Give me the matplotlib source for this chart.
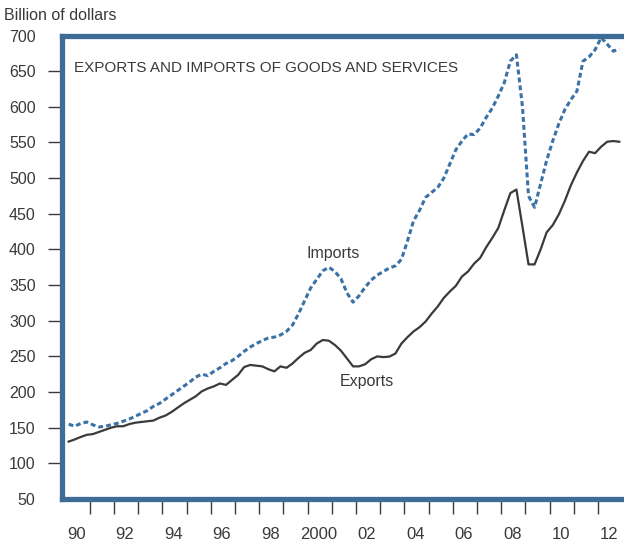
import numpy as np
import matplotlib
matplotlib.use("Agg")
import matplotlib.pyplot as plt

# Quarterly values, 1990Q1 .. 2012Q4, billion of dollars
exports = [
    130.5, 133.5, 137, 140,   # 1990
    141, 144, 147, 150,       # 1991
    152, 152, 155, 157,       # 1992
    158, 159, 160, 164,       # 1993
    167, 172, 178, 184,       # 1994
    189, 194, 201, 205,       # 1995
    208, 212, 210, 217,       # 1996
    224, 235, 238, 237,       # 1997
    236, 232, 229, 236,       # 1998
    234, 240, 248, 255,       # 1999
    259, 268, 273, 272,       # 2000
    266, 258, 247, 236,       # 2001
    236, 239, 246, 250,       # 2002
    249, 249.7, 254, 268,     # 2003
    277, 285, 291, 299,       # 2004
    310, 320, 332, 341,       # 2005
    349, 362, 369, 380,       # 2006
    388, 403, 416, 430,       # 2007
    455, 479, 484, 432,       # 2008
    379, 379, 400, 424,       # 2009
    434, 449, 468, 490,       # 2010
    508, 524, 537, 535,       # 2011
    544, 551, 552, 551,       # 2012
]
imports = [
    155, 152, 156, 158,       # 1990
    154, 151, 152, 154,       # 1991
    156, 159, 162, 166,       # 1992
    170, 174, 180, 184,       # 1993
    190, 196, 202, 208,       # 1994
    214, 221, 225, 223,       # 1995
    229, 234, 240, 244,       # 1996
    250, 257, 263, 268,       # 1997
    272, 276, 277, 280,       # 1998
    285, 294, 310, 328,       # 1999
    346, 358, 370, 375,       # 2000
    369, 359, 339, 326,       # 2001
    335, 347, 357, 364,       # 2002
    369, 374, 377, 386,       # 2003
    412, 440, 455, 473,       # 2004
    480, 487, 500, 520,       # 2005
    540, 552, 562, 561,       # 2006
    570, 585, 598, 615,       # 2007
    634, 664, 673, 600,       # 2008
    475, 459, 492, 525,       # 2009
    552, 576, 596, 610,       # 2010
    622, 664, 670, 680,       # 2011
    697, 688, 678, 681,       # 2012
]
quarters = 1990.125 + 0.25 * np.arange(len(exports))

year_ticks = list(range(1991, 2013))
label_years = list(range(1990, 2013, 2))
year_labels = ["90", "92", "94", "96", "98", "2000", "02", "04", "06", "08", "10", "12"]
y_ticks = list(range(50, 701, 50))

plt.rcParams["font.family"] = ["Liberation Sans", "DejaVu Sans"]
plt.rcParams["font.size"] = 11

frame = "#3d6c97"
dark = "#3a3a3a"

fig = plt.figure(figsize=(6.24, 5.41), dpi=100)
ax = fig.add_axes([62 / 624, 42 / 541, 1 - 62 / 624, (499 - 35.5) / 541])

ax.plot(quarters, imports, color="#3b72a6", lw=2.2, linestyle=(0, (1.6, 1.0)))
ax.plot(quarters, exports, color=dark, lw=1.6)

ax.set_xlim(1989.85, 2013.07)
ax.set_ylim(50, 700)

for side in ["left", "top", "bottom"]:
    ax.spines[side].set_color(frame)
    ax.spines[side].set_linewidth(3.8)
ax.spines["right"].set_visible(False)

ax.set_yticks(y_ticks)
ax.set_yticklabels([str(v) for v in y_ticks])
ax.tick_params(axis="y", direction="out", length=10, width=1.0, color=dark,
               pad=9, labelcolor=dark, labelsize=11.5)
yt = ax.yaxis.get_major_ticks()
yt[0].tick1line.set_visible(False)
yt[-1].tick1line.set_visible(False)

# year ticks at the start of each year, labels centred on even years
ax.set_xticks(year_ticks)
ax.set_xticklabels([])
ax.tick_params(axis="x", which="major", direction="out", length=11, width=1.0, color=dark)
ax.set_xticks([y + 0.45 for y in label_years], minor=True)
ax.set_xticklabels(year_labels, minor=True)
ax.tick_params(axis="x", which="minor", length=0, pad=20, labelcolor=dark, labelsize=12)

fig.text(4 / 624, 1 - 15 / 541, "Billion of dollars", ha="left", va="center",
         fontsize=11.5, color=dark)
ax.text(1990.35, 655, "EXPORTS AND IMPORTS OF GOODS AND SERVICES", fontsize=11,
        color=dark, va="center", ha="left")
ax.text(2001.05, 394, "Imports", fontsize=11.5, color=dark, ha="center", va="center")
ax.text(2002.45, 215, "Exports", fontsize=11.5, color=dark, ha="center", va="center")

fig.savefig("out.png", dpi=100)
